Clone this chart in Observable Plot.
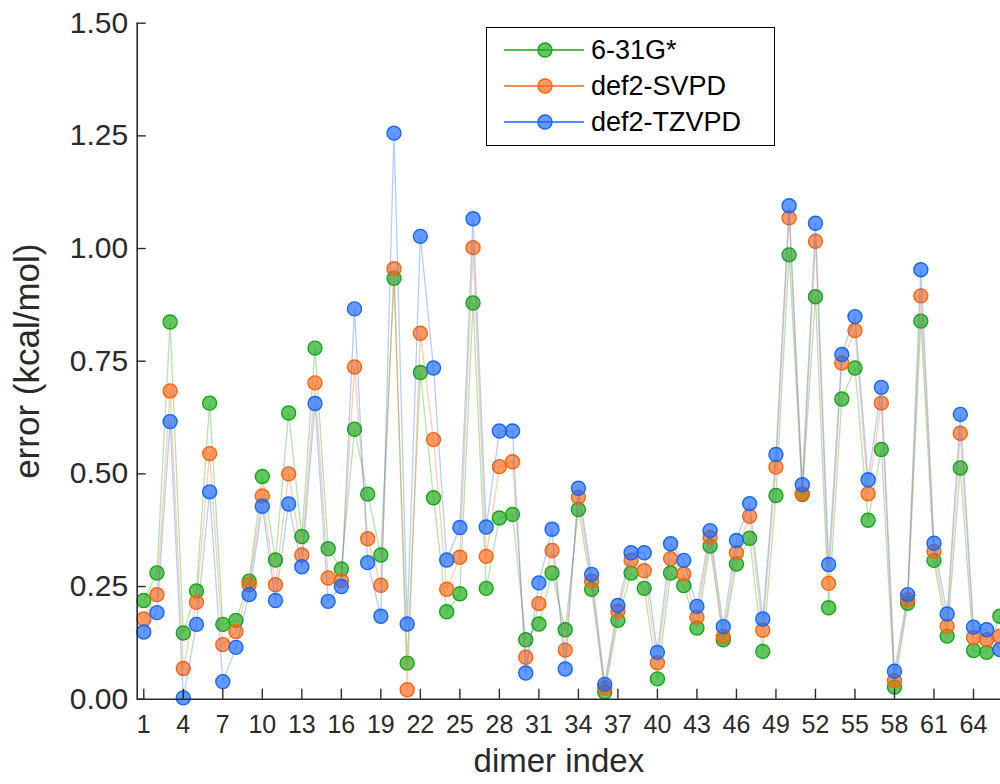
<!DOCTYPE html>
<html>
<head>
<meta charset="utf-8">
<script src="https://cdn.jsdelivr.net/npm/d3@7"></script>
<script src="https://cdn.jsdelivr.net/npm/@observablehq/plot@0.6"></script>
<style>
  html, body { margin: 0; padding: 0; background: #fff; overflow: hidden; width: 1000px; height: 784px; }
  #wrap { position: relative; width: 1000px; height: 784px; }
  #legend { position: absolute; left: 486px; top: 27px; width: 289px; height: 119px; border: 1.6px solid #000; background: #fff; box-sizing: border-box; font-family: "Liberation Sans", Arial, sans-serif; }
  .row { position: absolute; left: 0; height: 36px; display: flex; align-items: center; }
  .row span { font-size: 27px; color: #000; margin-left: 4px; }
</style>
</head>
<body>
<div id="wrap"><div id="chart"></div><div id="legend"></div></div>
<script>
const dimers = d3.range(1, 67);
const seriesNames = ["6-31G*", "def2-SVPD", "def2-TZVPD"];
const seriesColors = ["#12a812", "#ff6510", "#1466ff"];
const xTicks = [1, 4, 7, 10, 13, 16, 19, 22, 25, 28, 31, 34, 37, 40, 43, 46, 49, 52, 55, 58, 61, 64];
const yTicks = [0, 0.25, 0.5, 0.75, 1.0, 1.25, 1.5];

const g631 = [0.219, 0.280, 0.837, 0.147, 0.240, 0.657, 0.166, 0.175, 0.262, 0.494,
  0.309, 0.635, 0.361, 0.779, 0.334, 0.289, 0.599, 0.455, 0.320, 0.934,
  0.080, 0.725, 0.447, 0.194, 0.234, 0.879, 0.246, 0.402, 0.410, 0.132,
  0.167, 0.280, 0.154, 0.421, 0.244, 0.016, 0.175, 0.280, 0.246, 0.045,
  0.280, 0.252, 0.158, 0.340, 0.132, 0.300, 0.357, 0.106, 0.452, 0.986,
  0.454, 0.893, 0.203, 0.666, 0.735, 0.397, 0.554, 0.027, 0.213, 0.839,
  0.308, 0.140, 0.513, 0.108, 0.104, 0.184];
const svpd = [0.178, 0.232, 0.684, 0.068, 0.215, 0.545, 0.121, 0.150, 0.254, 0.451,
  0.254, 0.500, 0.320, 0.702, 0.269, 0.263, 0.737, 0.356, 0.253, 0.955,
  0.021, 0.812, 0.576, 0.244, 0.315, 1.002, 0.317, 0.516, 0.527, 0.093,
  0.212, 0.330, 0.109, 0.448, 0.262, 0.025, 0.195, 0.308, 0.285, 0.081,
  0.312, 0.278, 0.182, 0.359, 0.139, 0.325, 0.406, 0.153, 0.515, 1.068,
  0.456, 1.016, 0.257, 0.746, 0.818, 0.456, 0.657, 0.041, 0.221, 0.895,
  0.328, 0.162, 0.590, 0.137, 0.132, 0.140];
const tzvpd = [0.149, 0.192, 0.616, 0.003, 0.166, 0.460, 0.039, 0.115, 0.232, 0.428,
  0.219, 0.433, 0.294, 0.656, 0.217, 0.250, 0.866, 0.303, 0.184, 1.256,
  0.167, 1.027, 0.735, 0.309, 0.381, 1.066, 0.382, 0.595, 0.595, 0.058,
  0.258, 0.377, 0.067, 0.468, 0.277, 0.033, 0.208, 0.325, 0.325, 0.104,
  0.345, 0.308, 0.206, 0.374, 0.161, 0.352, 0.434, 0.178, 0.543, 1.095,
  0.476, 1.056, 0.299, 0.765, 0.849, 0.487, 0.692, 0.062, 0.232, 0.953,
  0.346, 0.189, 0.632, 0.160, 0.154, 0.110];
const seriesValues = [g631, svpd, tzvpd];

const tables = seriesValues.map((vals, s) => dimers.map((d, i) => ({dimer: d, error: vals[i], series: seriesNames[s]})));

const axisColor = "#2a2a2a";
const font = "Liberation Sans, Arial, sans-serif";

const marks = [];
tables.forEach((tbl, s) => {
  marks.push(Plot.line(tbl, {x: "dimer", y: "error", stroke: seriesColors[s], strokeOpacity: 0.32, strokeWidth: 1.3}));
  marks.push(Plot.dot(tbl, {x: "dimer", y: "error", r: 7, fill: seriesColors[s], fillOpacity: 0.66, stroke: seriesColors[s], strokeWidth: 1.4}));
});

const chart = Plot.plot({
  width: 1000,
  height: 784,
  marginLeft: 136.7,
  marginRight: 0,
  marginTop: 22.7,
  marginBottom: 85.3,
  style: {fontFamily: font, background: "transparent", overflow: "visible"},
  x: {domain: [0.5, 66.05], label: null},
  y: {domain: [0, 1.5], label: null},
  marks: [
    ...marks,
    Plot.ruleX([0.5], {stroke: axisColor, strokeWidth: 1.6}),
    Plot.ruleY([0], {stroke: axisColor, strokeWidth: 1.6}),
    Plot.axisX(xTicks, {tickSize: 10, dy: -10, text: null, label: null, stroke: axisColor, strokeWidth: 1.4}),
    Plot.axisY(yTicks, {tickSize: 9, dx: 9, text: null, label: null, stroke: axisColor, strokeWidth: 1.4}),
    Plot.axisX(xTicks, {tickSize: 0, tickPadding: 16, fontSize: 25, fill: axisColor, label: null}),
    Plot.axisY(yTicks, {tickSize: 0, tickPadding: 9, fontSize: 30, fill: axisColor, label: null, tickFormat: d3.format(".2f")}),
    Plot.text(["error (kcal/mol)"], {frameAnchor: "left", textAnchor: "middle", dx: -109, rotate: -90, fontSize: 35, fill: axisColor, lineAnchor: "middle"}),
    Plot.text(["dimer index"], {frameAnchor: "bottom", textAnchor: "middle", dx: -10, dy: 62, fontSize: 33, fill: axisColor, lineAnchor: "middle"})
  ]
});
document.getElementById("chart").appendChild(chart);

// legend
const legend = document.getElementById("legend");
const rowTops = [4, 40, 76];
seriesNames.forEach((name, s) => {
  const row = document.createElement("div");
  row.className = "row";
  row.style.top = rowTops[s] + "px";
  const c = seriesColors[s];
  row.innerHTML = `<svg width="100" height="36" style="display:block"><line x1="17" x2="97" y1="18" y2="18" stroke="${c}" stroke-width="1.6"/><circle cx="58" cy="18" r="7" fill="${c}" fill-opacity="0.66" stroke="${c}" stroke-width="1.4"/></svg><span>${name}</span>`;
  legend.appendChild(row);
});
</script>
</body>
</html>
